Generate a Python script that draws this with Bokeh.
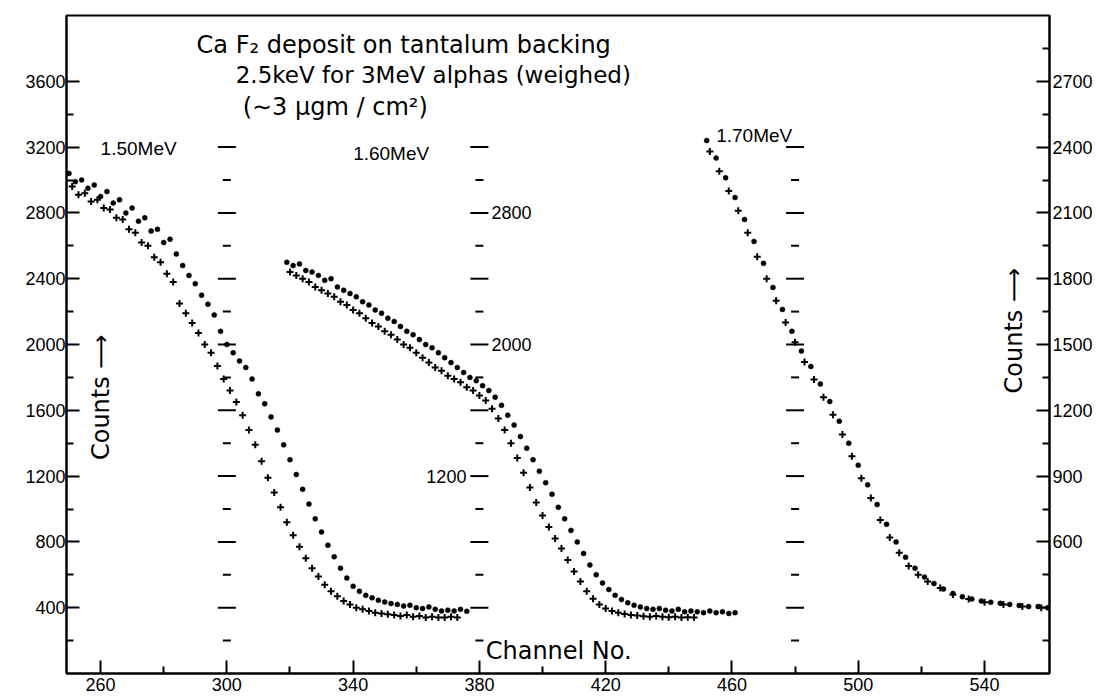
import math
from bokeh.plotting import figure
from bokeh.models import Range1d, LinearAxis, FixedTicker, ColumnDataSource
from bokeh.embed import file_html
from bokeh.resources import INLINE
from bokeh.core.properties import value

FONT = "DejaVu Sans"
TFONT = "Liberation Sans"

# ---------------- data ----------------
# 1.50 MeV (left axis counts)
g1_dot_ch = [232, 235, 238, 241, 244, 247, 250, 252, 254, 256, 258, 260, 262, 264, 266, 268, 270, 272, 274, 276,
             278, 280, 282, 284, 286, 288, 290, 292, 294, 296, 298, 300, 302, 304, 306, 308, 310, 312, 314, 316,
             318, 320, 322, 324, 326, 328, 330, 332, 334, 336, 338, 340, 342, 344, 346, 348, 350, 352, 354, 356,
             358, 360, 362, 364, 366, 368, 370, 372, 374, 376]
g1_dot_cnt = [3150, 3080, 3120, 3050, 3060, 3010, 3040, 2990, 3000, 2950, 2970, 2900, 2930, 2860, 2880, 2800, 2830,
              2750, 2770, 2690, 2700, 2620, 2640, 2550, 2480, 2420, 2370, 2300, 2245, 2180, 2080, 2000, 1950, 1900,
              1860, 1790, 1700, 1640, 1560, 1480, 1390, 1300, 1210, 1120, 1030, 940, 860, 780, 710, 640, 580, 530,
              500, 475, 460, 445, 435, 425, 420, 410, 415, 400, 395, 405, 390, 380, 385, 380, 390, 378]
g1_plus_ch = [233, 236, 239, 242, 245, 248, 251, 253, 255, 257, 259, 261, 263, 265, 267, 269, 271, 273, 275, 277,
              279, 281, 283, 285, 287, 289, 291, 293, 295, 297, 299, 301, 303, 305, 307, 309, 311, 313, 315, 317,
              319, 321, 323, 325, 327, 329, 331, 333, 335, 337, 339, 341, 343, 345, 347, 349, 351, 353, 355, 357,
              359, 361, 363, 365, 367, 369, 371, 373]
g1_plus_cnt = [3080, 3020, 3040, 2990, 2980, 2950, 2960, 2910, 2920, 2870, 2880, 2830, 2820, 2770, 2760, 2700, 2680,
               2620, 2600, 2530, 2500, 2430, 2380, 2250, 2190, 2130, 2070, 2000, 1950, 1870, 1790, 1720, 1650, 1570,
               1480, 1390, 1290, 1190, 1100, 1010, 920, 840, 770, 700, 640, 590, 540, 500, 470, 440, 420, 400, 390,
               380, 370, 365, 360, 355, 350, 355, 345, 350, 340, 345, 340, 340, 345, 340]

# 1.60 MeV (left axis counts)
g2_dot_ch = [319, 321, 323, 325, 327, 329, 331, 333, 335, 337, 339, 341, 343, 345, 347, 349, 351, 353, 355, 357,
             359, 361, 363, 365, 367, 369, 371, 373, 375, 377, 379, 381, 383, 385, 387, 389, 391, 393, 395, 397,
             399, 401, 403, 405, 407, 409, 411, 413, 415, 417, 419, 421, 423, 425, 427, 429, 431, 433, 435, 437,
             439, 441, 443, 445, 447, 449, 451, 453, 455, 457, 459, 461]
g2_dot_cnt = [2500, 2480, 2490, 2450, 2440, 2420, 2390, 2400, 2350, 2330, 2310, 2290, 2260, 2240, 2210, 2190, 2160,
              2140, 2110, 2080, 2060, 2030, 2000, 1980, 1950, 1920, 1890, 1860, 1830, 1800, 1780, 1750, 1720, 1680,
              1630, 1570, 1510, 1440, 1370, 1300, 1230, 1160, 1090, 1010, 940, 870, 800, 730, 660, 600, 550, 510, 475,
              450, 430, 415, 405, 395, 390, 395, 385, 380, 390, 375, 380, 375, 370, 380, 370, 375, 365, 370]
g2_plus_ch = [320, 322, 324, 326, 328, 330, 332, 334, 336, 338, 340, 342, 344, 346, 348, 350, 352, 354, 356, 358,
              360, 362, 364, 366, 368, 370, 372, 374, 376, 378, 380, 382, 384, 386, 388, 390, 392, 394, 396, 398,
              400, 402, 404, 406, 408, 410, 412, 414, 416, 418, 420, 422, 424, 426, 428, 430, 432, 434, 436, 438,
              440, 442, 444, 446, 448]
g2_plus_cnt = [2440, 2420, 2400, 2380, 2350, 2330, 2310, 2290, 2260, 2240, 2210, 2190, 2160, 2130, 2110, 2080, 2060,
               2030, 2000, 1980, 1950, 1920, 1890, 1860, 1840, 1810, 1790, 1770, 1740, 1720, 1690, 1660, 1610, 1550,
               1480, 1400, 1310, 1220, 1130, 1040, 960, 890, 820, 760, 690, 620, 560, 500, 455, 420, 395, 380, 370,
               362, 356, 352, 348, 345, 350, 345, 342, 345, 340, 342, 340]

# 1.70 MeV (right axis counts)
g3_dot_ch = [452, 455, 458, 461, 464, 467, 470, 473, 476, 479, 482, 485, 488, 491, 494, 497, 500, 503, 506, 509,
             512, 515, 518, 521, 524, 527, 530, 533, 536, 539, 542, 545, 548, 551, 554, 557, 560]
g3_dot_cnt = [2430, 2350, 2260, 2170, 2070, 1970, 1870, 1760, 1660, 1560, 1470, 1400, 1320, 1240, 1150, 1050, 950,
              860, 770, 680, 600, 530, 480, 440, 410, 385, 365, 350, 340, 330, 325, 320, 315, 310, 305, 305, 300]
g3_plus_ch = [453, 456, 459, 462, 465, 468, 471, 474, 477, 480, 483, 486, 489, 492, 495, 498, 501, 504, 507, 510,
              513, 516, 519, 522, 526, 530, 535, 540, 546, 552, 558]
g3_plus_cnt = [2380, 2290, 2200, 2110, 2010, 1900, 1800, 1700, 1600, 1510, 1420, 1340, 1260, 1180, 1090, 990, 890,
               800, 700, 620, 550, 490, 450, 420, 390, 360, 340, 325, 315, 305, 300]

# axes / tick values
x_major = [260, 300, 340, 380, 420, 460, 500, 540]
x_minor = [280, 320, 360, 400, 440, 480, 520]
left_major = [400, 800, 1200, 1600, 2000, 2400, 2800, 3200, 3600]
left_minor = [200, 600, 1000, 1400, 1800, 2200, 2600, 3000, 3400]
right_major = [300, 600, 900, 1200, 1500, 1800, 2100, 2400, 2700]
right_minor = [150, 450, 750, 1050, 1350, 1650, 1950, 2250, 2550, 2850]
inner_axes_ch = [300, 380, 480]
inner_ticks = [200, 400, 600, 800, 1000, 1200, 1400, 1600, 1800, 2000, 2200, 2400, 2600, 2800, 3000, 3200]
inner_labels_right = [2800, 2000]
inner_labels_left = [1200]

# ---------------- figure ----------------
p = figure(width=1096, height=698, output_backend="svg", toolbar_location=None,
           x_range=Range1d(249.2, 560.6), y_range=Range1d(0, 4000),
           min_border_left=66, min_border_right=47, min_border_top=15, min_border_bottom=25)
p.extra_y_ranges = {"right": Range1d(0, 3000)}
p.grid.visible = False
p.outline_line_color = "black"
p.outline_line_width = 2
p.background_fill_color = "white"
p.border_fill_color = "white"


def style_axis(ax, fs):
    ax.axis_line_width = 2
    ax.axis_line_color = "black"
    ax.major_tick_line_width = 2
    ax.minor_tick_line_width = 2
    ax.major_tick_line_color = "black"
    ax.minor_tick_line_color = "black"
    ax.major_tick_in = 13
    ax.major_tick_out = 0
    ax.minor_tick_in = 7
    ax.minor_tick_out = 0
    ax.major_label_text_font = TFONT
    ax.major_label_text_font_size = fs
    ax.major_label_text_color = "black"


xa = p.xaxis[0]
xa.ticker = FixedTicker(ticks=x_major, minor_ticks=x_minor)
style_axis(xa, "18px")
xa.major_label_standoff = 4

ya = p.yaxis[0]
ya.ticker = FixedTicker(ticks=left_major, minor_ticks=left_minor)
style_axis(ya, "18px")
ya.major_label_standoff = 1

ra = LinearAxis(y_range_name="right", ticker=FixedTicker(ticks=right_major, minor_ticks=right_minor))
style_axis(ra, "18px")
ra.major_label_standoff = 3
ra.major_label_overrides = {300: ""}
p.add_layout(ra, "right")

# inner dashed tick columns
ix, iy, isz = [], [], []
for c in inner_axes_ch:
    for t in inner_ticks:
        ix.append(c)
        iy.append(t)
        isz.append(18 if t % 400 == 0 else 8)
p.scatter(x="x", y="y", size="s", marker="dash", line_color="black", line_width=2,
          source=ColumnDataSource(dict(x=ix, y=iy, s=isz)))
p.text(x=[380] * len(inner_labels_right), y=inner_labels_right, text=[str(v) for v in inner_labels_right],
       x_offset=12, text_align="left", text_baseline="middle", text_font=value(TFONT),
       text_font_size="18px", text_color="black")
p.text(x=[380] * len(inner_labels_left), y=inner_labels_left, text=[str(v) for v in inner_labels_left],
       x_offset=-13, text_align="right", text_baseline="middle", text_font=value(TFONT),
       text_font_size="18px", text_color="black")

# data points
dot_kw = dict(marker="circle", size=5, fill_color="black", line_color="black", line_width=0.5)
plus_kw = dict(marker="cross", size=7, line_color="black", line_width=2)
p.scatter(g1_dot_ch, g1_dot_cnt, **dot_kw)
p.scatter(g1_plus_ch, g1_plus_cnt, **plus_kw)
p.scatter(g2_dot_ch, g2_dot_cnt, **dot_kw)
p.scatter(g2_plus_ch, g2_plus_cnt, **plus_kw)
p.scatter(g3_dot_ch, g3_dot_cnt, y_range_name="right", **dot_kw)
p.scatter(g3_plus_ch, g3_plus_cnt, y_range_name="right", **plus_kw)

# annotations
txt_kw = dict(text_font=value(FONT), text_color="black", text_baseline="middle")
lab_kw = dict(text_font=value(TFONT), text_color="black", text_baseline="middle")
p.text(x=[260], y=[3190], text=["1.50MeV"], text_align="left", text_font_size="19px", **lab_kw)
p.text(x=[340], y=[3160], text=["1.60MeV"], text_align="left", text_font_size="19px", **lab_kw)
p.text(x=[455], y=[3270], text=["1.70MeV"], text_align="left", text_font_size="19px", **lab_kw)
p.text(x=[290.4], y=[3820], text=["Ca F\u2082 deposit on tantalum backing"], text_align="left",
       text_font_size="24px", **txt_kw)
p.text(x=[302.8], y=[3640], text=["2.5keV for 3MeV alphas (weighed)"], text_align="left",
       text_font_size="23px", **txt_kw)
p.text(x=[305], y=[3445], text=["(\u223c3 \u03bcgm / cm\u00b2)"], text_align="left",
       text_font_size="24px", **txt_kw)
p.text(x=[382], y=[134], text=["Channel No."], text_align="left", text_font_size="24px", **txt_kw)
p.text(x=[260], y=[1680], text=["Counts \u27f6"], text_align="center", angle=math.pi / 2,
       text_font_size="24px", **txt_kw)
p.text(x=[549.5], y=[2085], text=["Counts \u27f6"], text_align="center", angle=math.pi / 2,
       text_font_size="24px", **txt_kw)

open("out.html", "w").write(file_html(p, INLINE))
